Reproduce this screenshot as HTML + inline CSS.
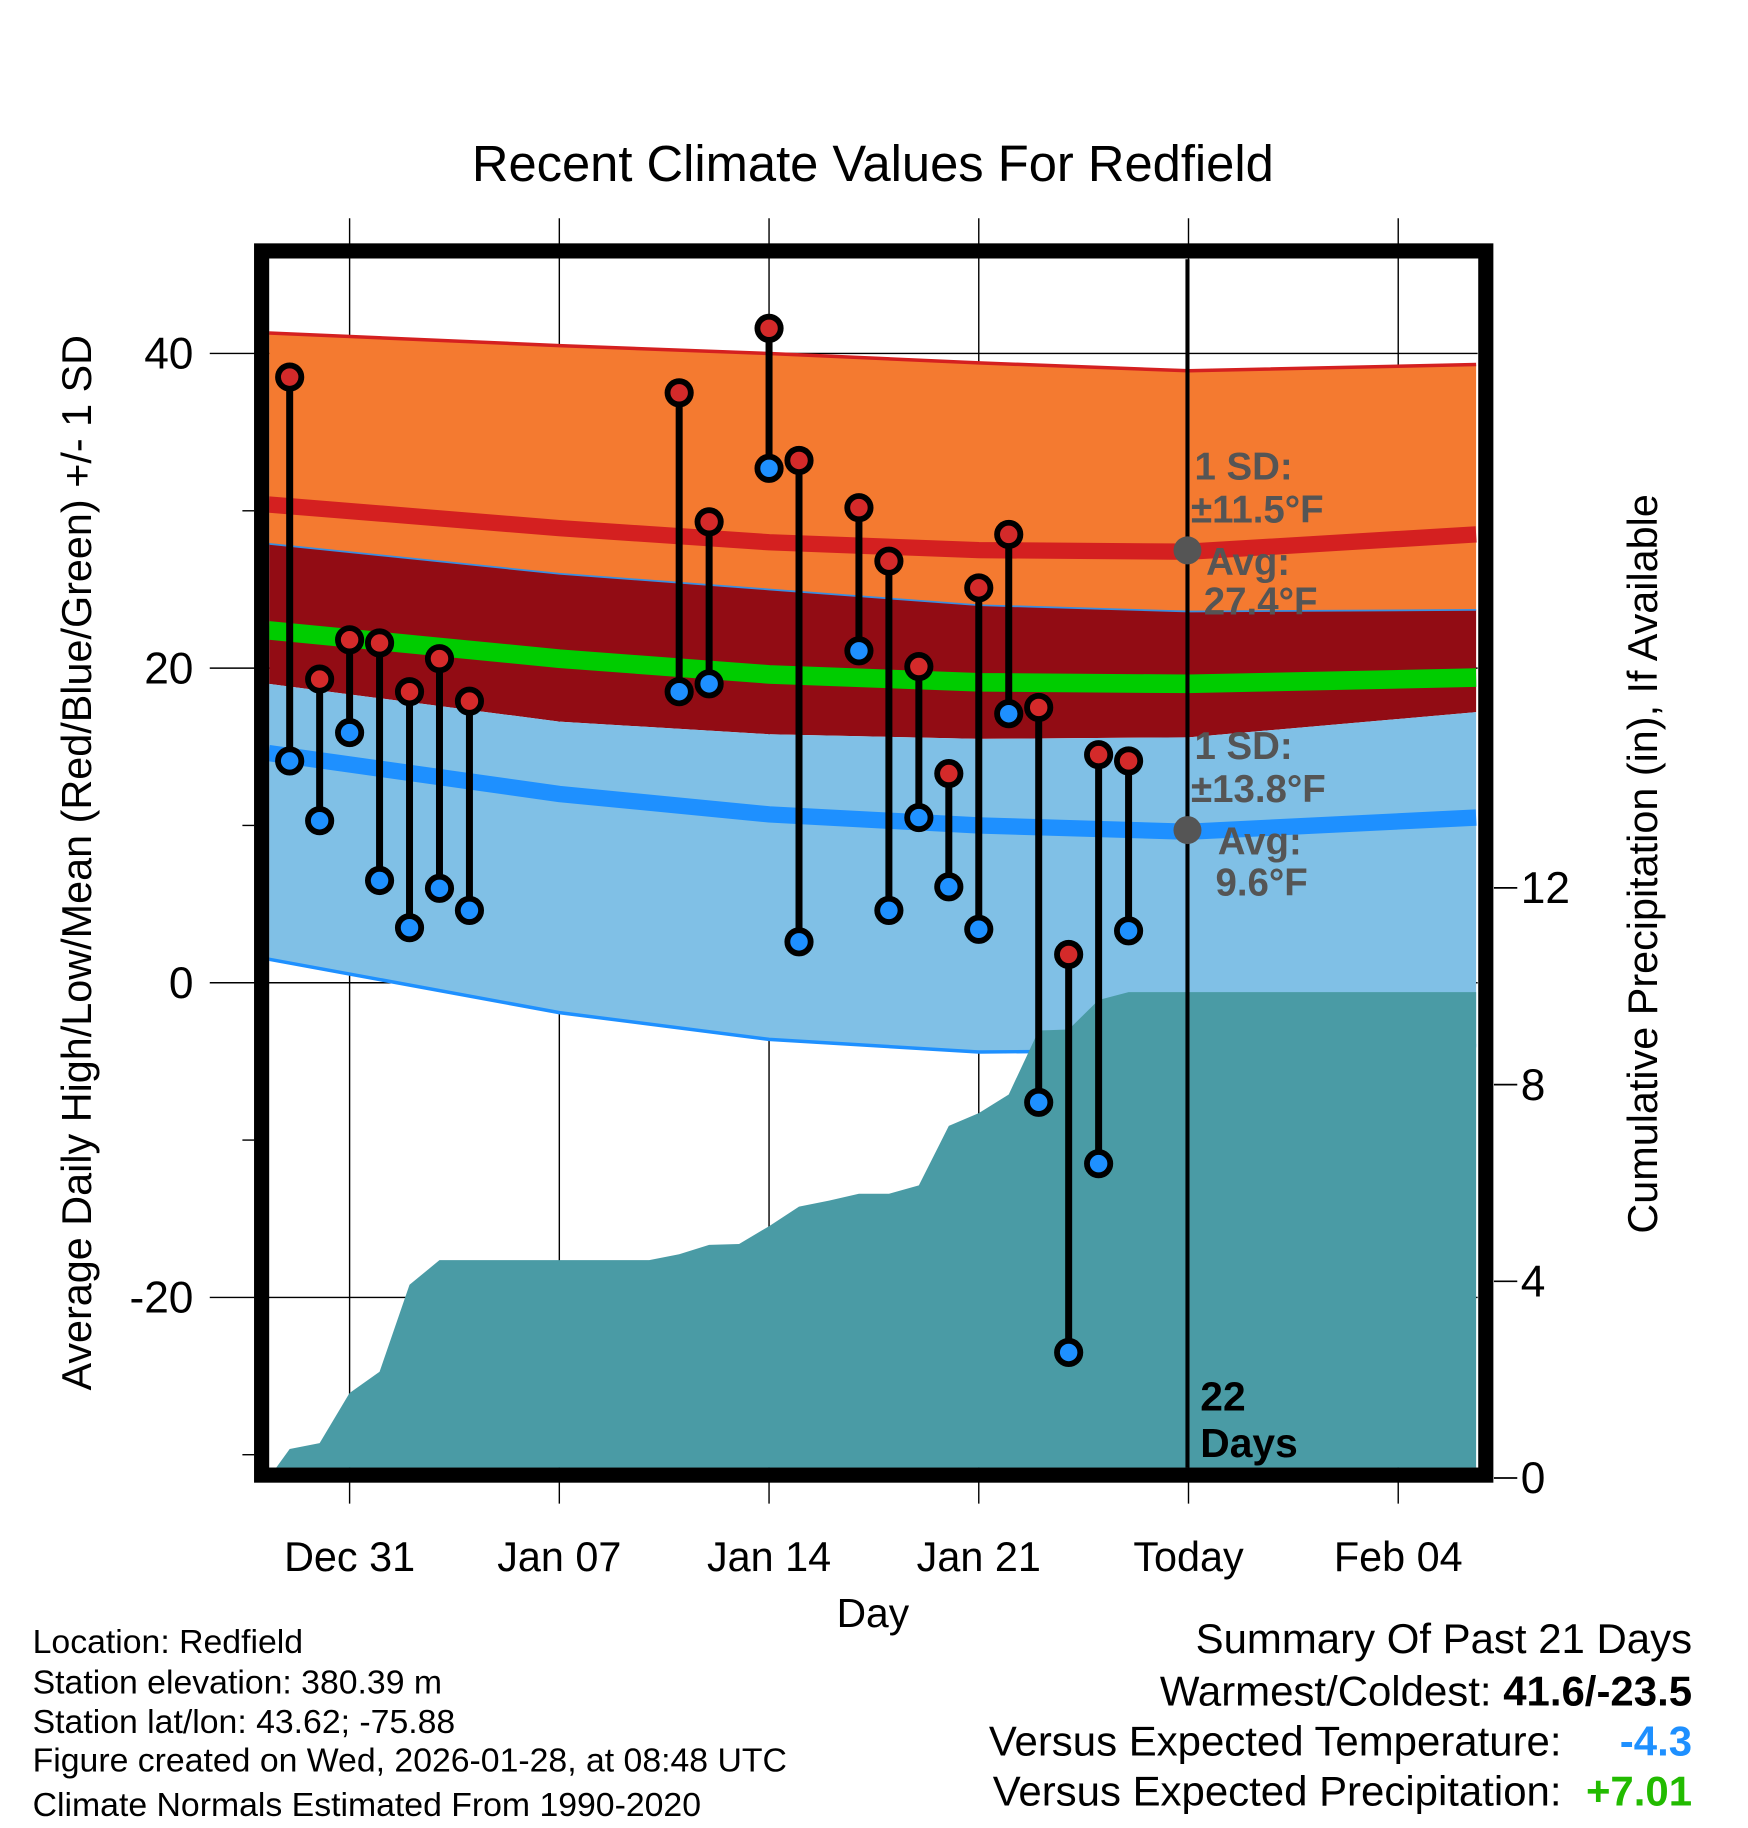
<!DOCTYPE html>
<html><head><meta charset="utf-8"><style>
html,body{margin:0;padding:0;background:#fff;}
svg{display:block;font-family:"Liberation Sans",sans-serif;}
</style></head><body>
<svg id="chart" width="1748" height="1828" viewBox="0 0 1500 1568" xmlns="http://www.w3.org/2000/svg">
<defs><clipPath id="pc"><rect x="231" y="222" width="1037" height="1037"/></clipPath></defs>
<text x="749" y="155" font-size="43.5" text-anchor="middle">Recent Climate Values For Redfield</text>
<g id="grid"></g>
<g id="plot" clip-path="url(#pc)"></g>
<g id="marks"></g>
<rect x="224.5" y="215" width="1050.5" height="1050.5" fill="none" stroke="#000" stroke-width="13"/>
<g id="axes"></g>
<text transform="translate(78,740) rotate(-90)" font-size="35.5" text-anchor="middle">Average Daily High/Low/Mean (Red/Blue/Green) +/- 1 SD</text>
<text transform="translate(1422,741) rotate(-90)" font-size="35.5" text-anchor="middle">Cumulative Precipitation (in), If Available</text>
<text x="749" y="1396" font-size="35" text-anchor="middle">Day</text>
<g font-weight="bold" font-size="33" fill="#555">
<text x="1025" y="411">1 SD:</text><text x="1022" y="448">±11.5°F</text>
<circle cx="1019" cy="472" r="12" fill="#555"/>
<text x="1035" y="493">Avg:</text><text x="1033" y="527">27.4°F</text>
<text x="1025" y="651">1 SD:</text><text x="1022" y="688">±13.8°F</text>
<circle cx="1019" cy="712" r="12" fill="#555"/>
<text x="1045" y="733">Avg:</text><text x="1043" y="768">9.6°F</text>
<text x="1030" y="1210" fill="#000" font-size="35">22</text><text x="1030" y="1250" fill="#000" font-size="35">Days</text>
</g>
<g font-size="29">
<text x="28" y="1418">Location: Redfield</text>
<text x="28" y="1453">Station elevation: 380.39 m</text>
<text x="28" y="1487">Station lat/lon: 43.62; -75.88</text>
<text x="28" y="1520">Figure created on Wed, 2026-01-28, at 08:48 UTC</text>
<text x="28" y="1558">Climate Normals Estimated From 1990-2020</text>
</g>
<g font-size="36" text-anchor="end">
<text x="1452" y="1418">Summary Of Past 21 Days</text>
<text x="1452" y="1463">Warmest/Coldest: <tspan font-weight="bold">41.6/-23.5</tspan></text>
<text x="1340" y="1506">Versus Expected Temperature:</text>
<text x="1452" y="1506" fill="#1e90ff" font-weight="bold">-4.3</text>
<text x="1340" y="1549">Versus Expected Precipitation:</text>
<text x="1452" y="1549" fill="#22bb00" font-weight="bold">+7.01</text>
</g>
</svg>
<script>
const days=[-2,-1,0,1,2,3,4,11,12,14,15,17,18,19,20,21,22,23,24,25,26];
const highs=[38.5,19.3,21.8,21.6,18.5,20.6,17.9,37.5,29.3,41.6,33.2,30.2,26.8,20.1,13.3,25.1,28.5,17.5,1.8,14.5,14.1];
const lows=[14.1,10.3,15.9,6.5,3.5,6.0,4.6,18.5,19.0,32.7,2.6,21.1,4.6,10.5,6.1,3.4,17.1,-7.6,-23.5,-11.5,3.3];
const normDays=[-2.7,7,14,21,28,37.6];
const hiTop=[41.3,40.5,40.0,39.4,38.9,39.3];
const hiMean=[30.4,28.9,28.0,27.5,27.4,28.5];
const hiBot=[27.9,26.0,25.0,24.0,23.6,23.7];
const avgMean=[22.4,20.6,19.6,19.1,19.0,19.4];
const loTop=[19.0,16.6,15.8,15.5,15.6,17.2];
const loMean=[14.6,12.0,10.7,10.0,9.6,10.5];
const loBot=[1.5,-1.9,-3.6,-4.4,-4.3,-4.0];
const precipDays=[-2.7,-2,-1,0,1,2,3,10,11,12,13,14,15,16,17,18,19,20,21,22,23,24,25,26,37.6];
const precip=[0,0.59,0.71,1.73,2.16,3.93,4.43,4.43,4.55,4.74,4.76,5.12,5.52,5.64,5.78,5.78,5.95,7.16,7.42,7.80,9.10,9.12,9.72,9.88,9.88];
const xTickDays=[0,7,14,21,28,35];
const xTickLabels=["Dec 31","Jan 07","Jan 14","Jan 21","Today","Feb 04"];
const yTicks=[40,20,0,-20];
const y2Ticks=[0,4,8,12];

const X=d=>300+d*25.71;
const Y=t=>843-t*13.5;
const Y2=p=>1268-p*42.2;
const NS="http://www.w3.org/2000/svg";
function mk(tag,parent,attrs){const e=document.createElementNS(NS,tag);for(const k in attrs)e.setAttribute(k,attrs[k]);document.getElementById(parent).appendChild(e);return e;}
function band(top,bot){let p=normDays.map((d,i)=>X(d)+','+Y(top[i]));p=p.concat(normDays.map((d,i)=>X(d)+','+Y(bot[i])).reverse());return p.join(' ');}
function line(v){return normDays.map((d,i)=>X(d)+','+Y(v[i])).join(' ');}

xTickDays.forEach((d,i)=>{
 const g=mk('line','grid',{x1:X(d),x2:X(d),y1:187,y2:1290,stroke:'#000','stroke-width':1.2});
 
 
 const t=mk('text','axes',{x:X(d),y:1348,'font-size':35.5,'text-anchor':'middle'});
 t.textContent=xTickLabels[i];
 
 
});
yTicks.forEach(v=>{
 const g=mk('line','grid',{x1:180,x2:1268,y1:Y(v),y2:Y(v),stroke:'#000','stroke-width':1.2});
 
 
 const t=mk('text','axes',{x:166,y:Y(v)+13,'font-size':38,'text-anchor':'end'});
 t.textContent=v;
 
 
});
[30,10,-10,-30].forEach(v=>{
 const m=mk('line','grid',{x1:208,x2:218,y1:Y(v),y2:Y(v),stroke:'#000','stroke-width':1.2});
 
 
});
y2Ticks.forEach(v=>{
 const m=mk('line','axes',{x1:1282,x2:1302,y1:Y2(v),y2:Y2(v),stroke:'#000','stroke-width':1.5});
 
 
 const t=mk('text','axes',{x:1305,y:Y2(v)+13,'font-size':38});
 t.textContent=v;
 
 
});

let e;
e=mk('polygon','plot',{points:band(hiTop,hiBot),fill:'#f47a30'});


e=mk('polygon','plot',{points:band(hiBot,loTop),fill:'#920c14'});


e=mk('polygon','plot',{points:band(loTop,loBot),fill:'#80c0e6'});


e=mk('polyline','plot',{points:line(hiTop),fill:'none',stroke:'#d42020','stroke-width':3});


e=mk('polyline','plot',{points:line(hiBot),fill:'none',stroke:'#3a8ee0','stroke-width':1.5});


e=mk('polyline','plot',{points:line(loBot),fill:'none',stroke:'#1e90ff','stroke-width':3});


e=mk('polyline','plot',{points:line(hiMean),fill:'none',stroke:'#d42020','stroke-width':14});


e=mk('polyline','plot',{points:line(avgMean),fill:'none',stroke:'#00cc00','stroke-width':16});


e=mk('polyline','plot',{points:line(loMean),fill:'none',stroke:'#1e90ff','stroke-width':14});



let pp=precipDays.map((d,i)=>X(d)+','+Y2(precip[i]));
pp.push(X(precipDays[precipDays.length-1])+','+1268);pp.push(X(precipDays[0])+','+1268);
e=mk('polygon','plot',{points:pp.join(' '),fill:'#4a9ba5'});



e=mk('line','plot',{x1:1019,x2:1019,y1:222,y2:1260,stroke:'#000','stroke-width':3.5});



days.forEach((d,i)=>{
 const s=mk('line','marks',{x1:X(d),x2:X(d),y1:Y(highs[i]),y2:Y(lows[i]),stroke:'#000','stroke-width':6});
 
 
 const h=mk('circle','marks',{cx:X(d),cy:Y(highs[i]),r:10,fill:'#d42a2a',stroke:'#000','stroke-width':5});
 
 
 const l=mk('circle','marks',{cx:X(d),cy:Y(lows[i]),r:10,fill:'#1e90ff',stroke:'#000','stroke-width':5});
 
 
});
</script>
</body></html>
